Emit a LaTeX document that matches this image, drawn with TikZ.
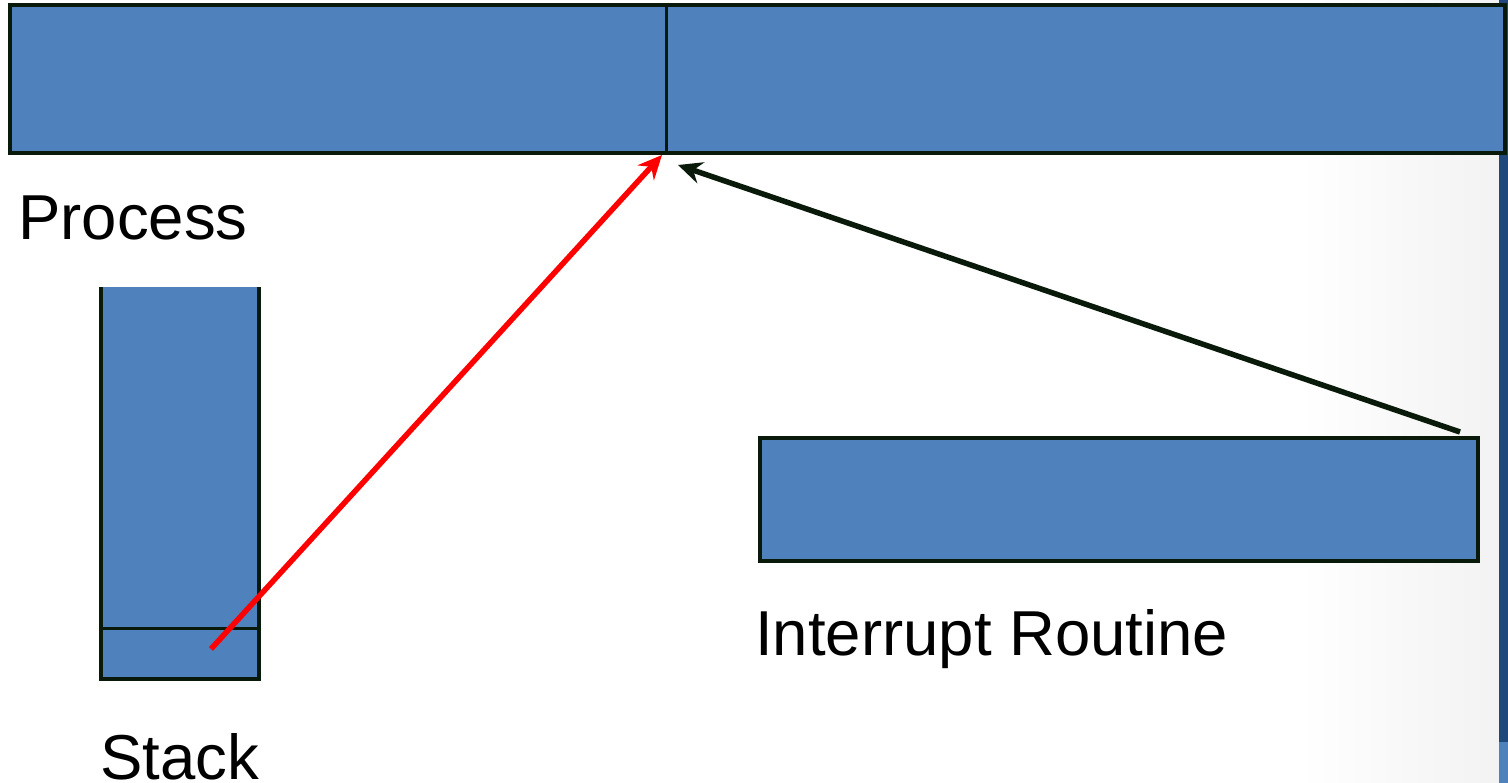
\documentclass[tikz,border=0pt]{standalone}
\usepackage{fontspec}
\setmainfont{Liberation Sans}
\usetikzlibrary{arrows.meta}
\definecolor{boxblue}{HTML}{4F81BD}
\definecolor{darkband}{HTML}{1F497D}
\definecolor{edge}{HTML}{0A1A0A}
\begin{document}
\begin{tikzpicture}[x=1pt,y=-1pt,
  box/.style={fill=boxblue, draw=edge, line width=3.5pt, inner sep=0pt, outer sep=0pt, anchor=north west},
  lbl/.style={font=\fontsize{63.5}{70}\selectfont, inner sep=0pt, anchor=base west},
  tip/.style={-{Stealth[length=24pt,width=22pt,inset=8pt]}}]
\useasboundingbox (0,0) rectangle (1508,783);
\shade[left color=white, right color=black!5] (1300,0) rectangle (1499,783);
\fill[darkband] (1499,0) rectangle (1508,742);
\fill[boxblue] (1499,742) rectangle (1508,783);
% process
\node[box, minimum width=1495pt, minimum height=148pt] (proc) at (10,5) {};
\draw[edge, line width=3pt] (666,5) -- (666,151);
\node[lbl] (plbl) at (18,240) {Process};
% stack
\node[fill=boxblue, minimum width=158pt, minimum height=392pt, anchor=north west, inner sep=0pt, outer sep=0pt] (stack) at (101,287) {};
\draw[edge, line width=3.5pt] (stack.north west) -- (stack.south west) -- (stack.south east) -- (stack.north east);
\draw[edge, line width=3pt] (102,628) -- (258,628);
\node[lbl] (slbl) at (100,779) {Stack};
% interrupt routine
\node[box, minimum width=718pt, minimum height=123pt] (intr) at (760,438) {};
\node[lbl] (ilbl) at (755,655) {Interrupt Routine};
% arrows
\coordinate (rs) at (211,649);
\coordinate (re) at (662,155);
\coordinate (bs) at (1460,432);
\coordinate (be) at (678,165);
\draw[red, line width=5.5pt, tip] (rs) -- (re);
\draw[edge, line width=5.5pt, tip] (bs) -- (be);
\end{tikzpicture}
\end{document}
